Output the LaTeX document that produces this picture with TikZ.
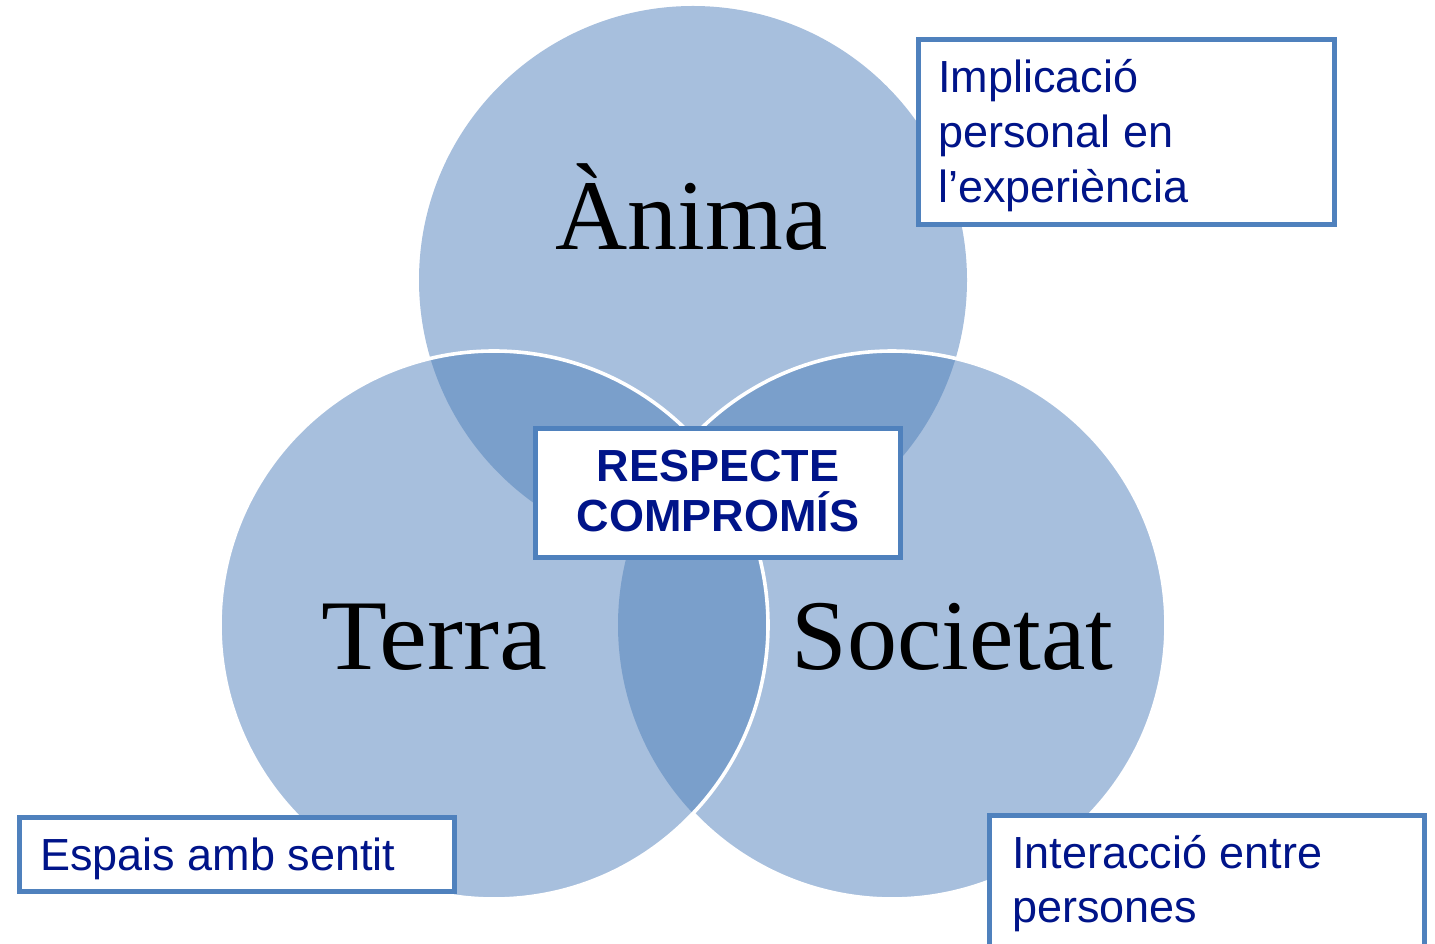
\documentclass[tikz,border=0pt]{standalone}
\usepackage{fontspec}
\setmainfont{Liberation Sans}
\newfontfamily\serifl{Liberation Serif}
\definecolor{lightc}{RGB}{167,191,221}
\definecolor{darkc}{RGB}{122,159,203}
\definecolor{borderc}{RGB}{79,129,189}
\definecolor{navyc}{RGB}{0,20,137}
\tikzset{
  venn/.style={fill=lightc},
  lens/.style={fill=darkc},
  rim/.style={draw=white,line width=1.8pt},
  labelbox/.style={draw=borderc,fill=white,line width=2.25pt,rectangle,inner sep=0pt},
  sidetext/.style={text=navyc,inner sep=0pt,anchor=base west,align=left,font=\fontsize{22.5}{27.5}\selectfont},
  bigword/.style={text=black,inner sep=0pt,anchor=base,font=\serifl\fontsize{50}{60}\selectfont}
}
\begin{document}
\begin{tikzpicture}[x=0.5pt,y=0.5pt]
\useasboundingbox (0,0) rectangle (1435,943);
\clip (0,0) rectangle (1435,943);
\coordinate (cT) at (693,663);
\coordinate (cL) at (494,318);
\coordinate (cR) at (892,318);
% circles
\fill[venn] (cT) circle[radius=274];
\fill[venn] (cL) circle[radius=274];
\fill[venn] (cR) circle[radius=274];
% overlaps
\begin{scope}
  \clip (cT) circle[radius=274];
  \fill[lens] (cL) circle[radius=274];
  \fill[lens] (cR) circle[radius=274];
\end{scope}
\begin{scope}
  \clip (cL) circle[radius=274];
  \fill[lens] (cR) circle[radius=274];
\end{scope}
% white rims
\draw[rim] ([shift={(136.58:274)}]cR) arc[start angle=136.58,end angle=-136.58,radius=274];
\draw[rim] (cL) circle[radius=274];
% big words
\node[bigword] (anima) at (691.5,693) {Ànima};
\node[bigword,xscale=1.08,transform shape] (terra) at (434.5,273) {Terra};
\node[bigword] (societat) at (952.5,273) {Societat};
% boxes
\node[labelbox,minimum width=208pt,minimum height=92.5pt] (b1) at (1126.5,811) {};
\node[labelbox,minimum width=182.5pt,minimum height=64.5pt] (bc) at (718,450) {};
\node[labelbox,minimum width=217.5pt,minimum height=37pt] (b2) at (237,88.5) {};
\node[labelbox,minimum width=217.5pt,minimum height=92.5pt] (b3) at (1207,35) {};
% texts (base anchor = last line's baseline)
\node[sidetext] (t1) at (938,740) {Implicació\\personal en\\l’experiència};
\node[text=navyc,inner sep=0pt,anchor=base,align=center,font=\bfseries\fontsize{22.5}{25}\selectfont] (tc) at (718,411) {RESPECTE\\COMPROMÍS};
\node[sidetext] (t2) at (40,73) {Espais amb sentit};
\node[sidetext,font=\fontsize{22.5}{27}\selectfont] (t3) at (1012,21) {Interacció entre\\persones};
\end{tikzpicture}
\end{document}
